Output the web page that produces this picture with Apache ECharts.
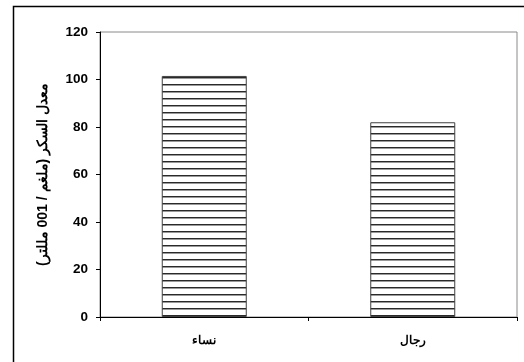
<!DOCTYPE html>
<html>
<head>
<meta charset="utf-8">
<script src="https://cdn.jsdelivr.net/npm/echarts@6/dist/echarts.min.js"></script>
<style>
html,body{margin:0;padding:0;background:#fff;}
#c{width:524px;height:362px;}
</style>
</head>
<body>
<div id="c"></div>
<script>
var categories = ['نساء', 'رجال'];
var values = [101.5, 82];
var yTicks = {min: 0, max: 120, interval: 20};
var yTitle = 'معدل السكر (ملغم / 001 مللتر)';

var cv = document.createElement('canvas');
cv.width = 4; cv.height = 7;
var cx = cv.getContext('2d');
cx.fillStyle = '#ffffff'; cx.fillRect(0, 0, 4, 7);
cx.fillStyle = '#2a2a2a'; cx.fillRect(0, 0, 4, 1);
cx.fillStyle = '#9a9a9a'; cx.fillRect(0, 1, 4, 1);

var FONT = 'Arial, "Liberation Sans", sans-serif';
var chart = echarts.init(document.getElementById('c'), null, {renderer: 'canvas'});
chart.setOption({
  animation: false,
  backgroundColor: '#fff',
  grid: {left: 100, right: 7, top: 32, bottom: 45, show: true, borderColor: '#8a8a8a', borderWidth: 1, backgroundColor: 'transparent'},
  graphic: [{
    type: 'rect', silent: true,
    shape: {x: 13.5, y: 6.5, width: 530, height: 380},
    style: {fill: null, stroke: '#000', lineWidth: 1.5}
  }],
  xAxis: {
    type: 'category', data: categories,
    axisLine: {lineStyle: {color: '#000', width: 1}},
    axisTick: {show: true, length: 4, lineStyle: {color: '#000'}},
    axisLabel: {color: '#000', fontFamily: FONT, fontWeight: 'bold', fontSize: 12, margin: 18}
  },
  yAxis: {
    type: 'value', min: yTicks.min, max: yTicks.max, interval: yTicks.interval,
    name: yTitle, nameLocation: 'middle', nameGap: 50, nameRotate: 90,
    nameTextStyle: {color: '#000', fontFamily: FONT, fontWeight: 'bold', fontSize: 14},
    axisLine: {show: true, lineStyle: {color: '#000', width: 1}},
    axisTick: {show: true, length: 4, lineStyle: {color: '#000'}},
    splitLine: {show: false},
    axisLabel: {color: '#000', fontFamily: FONT, fontWeight: 'bold', fontSize: 13.5, margin: 12}
  },
  series: [{
    type: 'bar', data: values, barWidth: 85,
    itemStyle: {color: {image: cv, repeat: 'repeat'}, borderColor: '#404040', borderWidth: 1}
  }]
});
</script>
</body>
</html>
